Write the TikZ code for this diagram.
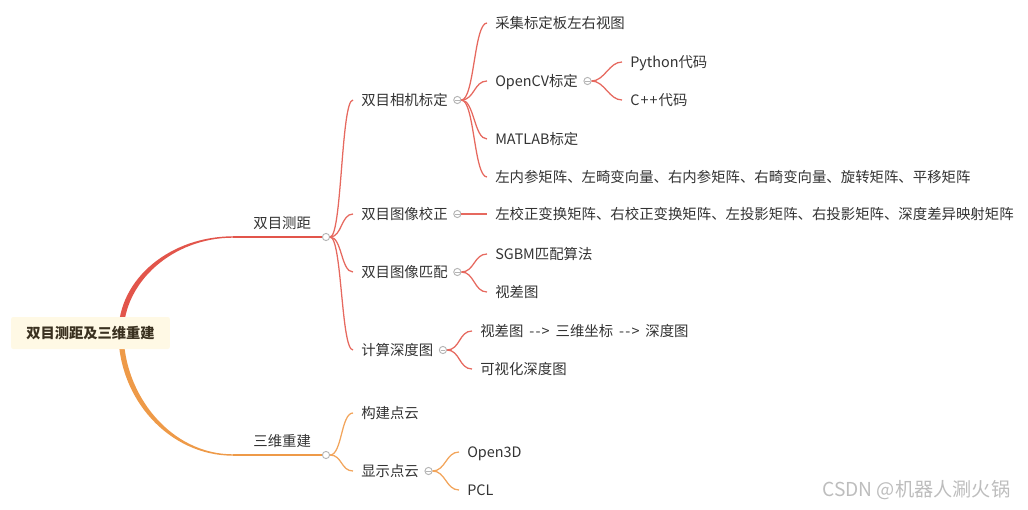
\documentclass[tikz,border=0pt]{standalone}
\usepackage{fontspec}
\usepackage{tikz}
\usetikzlibrary{positioning,calc}
\newfontfamily\cjk{Noto Sans CJK SC}
\definecolor{branchred}{HTML}{E2554B}
\definecolor{linkred}{HTML}{E6695F}
\definecolor{branchorange}{HTML}{EE9A48}
\definecolor{linkorange}{HTML}{F2A55C}
\definecolor{ink}{HTML}{333333}
\definecolor{rootfill}{HTML}{FFF9E5}
\definecolor{rootink}{HTML}{3A3120}
\definecolor{knobgray}{HTML}{B4B4B4}
\definecolor{wmgray}{HTML}{BDBDBD}
\newcommand\arrowtxt{\hspace{2pt}-\kern0.9pt-\kern0.9pt>\hspace{2pt}}
\tikzset{
  topic/.style={inner sep=0pt,text=ink,anchor=west,
    font=\cjk\fontsize{10.8}{13}\selectfont,text height=9.6pt,text depth=1.5pt},
  root/.style={rectangle,rounded corners=1.5pt,fill=rootfill,text=rootink,
    font=\cjk\bfseries\fontsize{10.7}{13}\selectfont,
    minimum width=119pt,minimum height=24pt,inner sep=0pt},
  knob/.style={circle,draw=knobgray,fill=white,line width=0.7pt,
    minimum size=5.4pt,inner sep=0pt},
  fold/.style={knob,path picture={\draw[knobgray,line width=0.5pt]
    ([xshift=0.9pt]path picture bounding box.west) --
    ([xshift=-0.9pt]path picture bounding box.east);}},
  rlink/.style={draw=linkred,line width=0.95pt},
  olink/.style={draw=linkorange,line width=0.95pt},
  watermark/.style={inner sep=0pt,anchor=west,text=wmgray,
    font=\cjk\fontsize{14.4}{16}\selectfont},
}
\begin{document}
\begin{tikzpicture}[x=0.75pt,y=-0.75pt]
  \useasboundingbox (0,0) rectangle (1028,510);

  % main branches, tapering away from the root
  \coordinate (rtop) at (233,237);
  \coordinate (rmid) at (121,333);
  \coordinate (rbot) at (233,455);
  \fill[branchred] ($(rmid)+(-2.6,0)$) .. controls +(0,-55) and +(-62,0) .. ($(rtop)+(0,-0.7)$)
    -- ($(rtop)+(0,0.7)$) .. controls +(-60,0) and +(0,-51) .. ($(rmid)+(2.6,0)$) -- cycle;
  \fill[branchorange] ($(rmid)+(-2.6,0)$) .. controls +(0,66) and +(-64,0) .. ($(rbot)+(0,0.7)$)
    -- ($(rbot)+(0,-0.7)$) .. controls +(-62,0) and +(0,62) .. ($(rmid)+(2.6,0)$) -- cycle;
  \node[root] (root) at (90.5,333) {双目测距及三维重建};

  \node[knob] (kdist) at (326,237) {};
  \node[knob] (krec) at (326,455) {};
  \draw[branchred,line width=1.05pt] (rtop) -- (kdist.west);
  \draw[branchorange,line width=1.05pt] (rbot) -- (krec.west);
  \node[topic,above left=4.5pt and 8pt of kdist.west] (dist) {双目测距};
  \node[topic,above left=4.5pt and 8pt of krec.west] (rec) {三维重建};

  % 双目测距
  \node[topic] (calib) at (361,100) {双目相机标定};
  \node[fold,right=4pt of calib] (kcalib) {};
  \node[topic] (rectify) at (361,214) {双目图像校正};
  \node[fold,right=4pt of rectify] (krectify) {};
  \node[topic] (match) at (361,272) {双目图像匹配};
  \node[fold,right=4pt of match] (kmatch) {};
  \node[topic] (depth) at (361,350) {计算深度图};
  \node[fold,right=4pt of depth] (kdepth) {};
  \foreach \n in {calib,rectify,match,depth}
    \draw[rlink] (kdist.east) .. controls +(12,0) and +(-12,0) .. ([xshift=-6pt]\n.west);

  \node[topic] (grab) at (495,23) {采集标定板左右视图};
  \node[topic] (cv) at (495,81) {OpenCV标定};
  \node[fold,right=4pt of cv] (kcv) {};
  \node[topic] (matlab) at (495,139) {MATLAB标定};
  \node[topic] (params) at (495,177) {左内参矩阵、左畸变向量、右内参矩阵、右畸变向量、旋转矩阵、平移矩阵};
  \foreach \n in {grab,cv,matlab,params}
    \draw[rlink] (kcalib.east) .. controls +(13,0) and +(-13,0) .. ([xshift=-6pt]\n.west);

  \node[topic] (py) at (630,62) {Python代码};
  \node[topic] (cpp) at (630,100) {C\kern0.8pt+\kern0.8pt+\kern0.8pt代码};
  \foreach \n in {py,cpp}
    \draw[rlink] (kcv.east) .. controls +(13,0) and +(-13,0) .. ([xshift=-6pt]\n.west);

  \node[topic] (mats) at (495,214) {左校正变换矩阵、右校正变换矩阵、左投影矩阵、右投影矩阵、深度差异映射矩阵};
  \draw[rlink] (krectify.east) -- ([xshift=-6pt]mats.west);

  \node[topic] (sgbm) at (495,254) {SGBM匹配算法};
  \node[topic] (disp) at (495,292) {视差图};
  \foreach \n in {sgbm,disp}
    \draw[rlink] (kmatch.east) .. controls +(13,0) and +(-13,0) .. ([xshift=-6pt]\n.west);

  \node[topic] (chain) at (480,331) {视差图 \arrowtxt{} 三维坐标 \arrowtxt{} 深度图};
  \node[topic] (vis) at (480,369) {可视化深度图};
  \foreach \n in {chain,vis}
    \draw[rlink] (kdepth.east) .. controls +(13,0) and +(-13,0) .. ([xshift=-6pt]\n.west);

  % 三维重建
  \node[topic] (cloud) at (361,413) {构建点云};
  \node[topic] (show) at (361,471) {显示点云};
  \node[fold,right=4pt of show] (kshow) {};
  \foreach \n in {cloud,show}
    \draw[olink] (krec.east) .. controls +(12,0) and +(-12,0) .. ([xshift=-6pt]\n.west);

  \node[topic] (o3d) at (467,452) {Open3D};
  \node[topic] (pcl) at (467,490) {PCL};
  \foreach \n in {o3d,pcl}
    \draw[olink] (kshow.east) .. controls +(13,0) and +(-13,0) .. ([xshift=-6pt]\n.west);

  \node[watermark] (wm) at (822,490) {CSDN @机器人涮火锅};
\end{tikzpicture}
\end{document}
